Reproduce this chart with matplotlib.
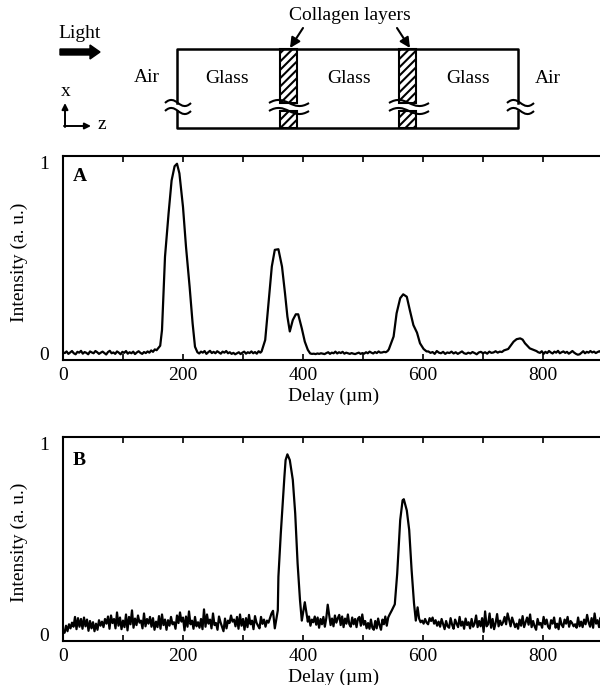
import numpy as np
import matplotlib
matplotlib.use('Agg')
import matplotlib.pyplot as plt
from matplotlib.patches import Rectangle, FancyArrow
from matplotlib.path import Path
from matplotlib.patches import PathPatch

plt.rcParams['font.family'] = ['Liberation Serif', 'DejaVu Serif']
plt.rcParams['hatch.linewidth'] = 1.5

# intensities are in thousandths
a_base1 = [38,34,42,30,37,44,33,28,40,36,45,31,39,35,28,42,37,33,44,38,30,36,41,34,27,39,45,33,37,30,42,36,28,40,35,44,31,38,33,41,29,37,43,35,30,39,34,42,36,47,40,52,48]
a_peak1_x = [162,165,170,176,181,186,190,194,200,205,211,216,220,224]
a_peak1_y = [70,147,506,720,880,950,962,915,750,555,360,180,65,38]
a_base2 = [32,41,36,44,30,38,45,34,40,33,43,37,31,41,36,44,33,38,30,35,28,33,38,29,36,41,31,38,34,42,33,39,31,43,36]
a_peak2_x = [331,337,342,348,353,359,365,370,374,378,383,388,392,398,403,408,412]
a_peak2_y = [42,98,260,458,540,543,458,327,213,140,196,224,224,155,90,50,32]
a_base3 = [30,31,29,32,30,33,31,29,34,38,30,36,33,41,32,38,34,40,31,36,33,30,34,31,29,33,36,30,34,31,38,33,41,36,32,39,34,42,36,37,40,38,44]
a_peak3_x = [543,551,556,562,567,573,578,584,590,595,601,606]
a_peak3_y = [52,115,229,303,322,310,245,171,134,82,54,42]
a_base4 = [42,35,39,30,44,36,33,40,30,37,34,41,32,38,30,36,42,33,30,36,32,39,34,28,37,40,33,38,31,41,35,37,43,36,41,39,47]
a_peak4_x = [742,751,756,762,766,770,778,784,789]
a_peak4_y = [54,90,102,106,100,82,57,50,44]
a_base5 = [38,35,43,30,40,34,44,37,32,41,36,45,33,38,42,35,40,31,37,44,36,30,26,28,35,43,33,40,36,44,37,41,34,39,43,37,40]

b_base1 = [52,40,75,48,82,62,90,70,118,58,112,70,108,60,115,72,105,50,98,62,92,48,85,55,102,75,95,68,108,85,120,60,125,88,108,62,140,75,115,58,100,68,130,52,118,82,150,65,110,78,125,90,100,62,135,72,108,85,118,70,112,55,95,68,122,60,130,78,105,55,102,75,118,82,92,60,125,88,140,95,115,52,120,70,145,82,100,60,118,72,92,65,108,58,155,70,130,85,105,62,135,78,88,55,120,92,70,48,110,62,100,88,125,95,105,72,118,60,130,75,108,55,112,68,128,82,100,58,122,90,75,62,118,84,105,70,100,90,112,135,148]
b_peak1_x = [353,358,359,363,369,371,374,378,383,387,391,395,398,403,408]
b_peak1_y = [62,150,315,528,805,887,915,887,790,626,380,200,100,190,95]
b_base2 = [120,75,105,92,120,80,115,65,108,82,118,70,112,178,128,78,110,72,125,90,112,128,78,120,68,110,85,130,82,70,115,82,108,68,110,118,75,130,80,98,62,88,60,105,65,55,98,62,110,78,55,105,82,120,75,115,130]
b_peak2_x = [548,553,557,562,566,568,573,577,581,585,588]
b_peak2_y = [150,180,330,593,690,695,640,544,348,185,100]
b_base3 = [165,110,92,100,85,108,90,82,112,98,115,85,102,75,95,70,108,82,58,98,72,65,112,80,60,105,85,68,118,75,95,60,110,78,92,62,108,70,85,125,68,98,72,112,45,145,72,82,135,65,108,58,88,132,72,100,78,92,118,82,135,105,72,115,92,68,85,60,105,75,122,68,92,115,80,130,68,98,72,55,108,80,88,65,118,82,105,70,60,102,85,115,65,85,58,112,80,68,105,85,118,70,98,88,72,82,65,115,72,95,68,105,82,128,92,70,112,65,135,85,102,68,115,80]


def fill_x(values, start, step):
    # baseline samples were read at an even spacing along the trace
    return [start + i * step for i in range(len(values))]


def join_trace(parts):
    xs = []
    ys = []
    for px, py in parts:
        xs += list(px)
        ys += list(py)
    return np.array(xs), np.array(ys) / 1000


a_x, a_y = join_trace([
    (fill_x(a_base1, 0, 3), a_base1),
    (a_peak1_x, a_peak1_y),
    (fill_x(a_base2, 227, 3), a_base2),
    (a_peak2_x, a_peak2_y),
    (fill_x(a_base3, 415, 3), a_base3),
    (a_peak3_x, a_peak3_y),
    (fill_x(a_base4, 609, 3.5), a_base4),
    (a_peak4_x, a_peak4_y),
    (fill_x(a_base5, 792, 3), a_base5),
])
b_x, b_y = join_trace([
    (fill_x(b_base1, 0, 2.5), b_base1),
    (b_peak1_x, b_peak1_y),
    (fill_x(b_base2, 410, 2.4), b_base2),
    (b_peak2_x, b_peak2_y),
    (fill_x(b_base3, 591, 2.5), b_base3),
])

W = 600
H = 685
FS = 14


def panel(top, bottom, x, y, letter, letter_y, label_y):
    ax = fig.add_axes([63 / W, 1 - bottom / H, (W - 63) / W, (bottom - top) / H])
    ax.plot(x, y, color='black', lw=1.6)
    ax.set_xlim(0, 895)
    ax.set_ylim(0, 1)
    ax.spines['right'].set_visible(False)
    for s in ['top', 'left', 'bottom']:
        ax.spines[s].set_linewidth(1.5)
    ax.set_xticks(range(0, 900, 100))
    ax.set_xticklabels(['0', '', '200', '', '400', '', '600', '', '800'], fontsize=FS)
    ax.tick_params(axis='x', direction='in', top=True, length=4, width=1.2, pad=5)
    ax.set_yticks([0, 1])
    ax.set_yticklabels(['0', '1'], fontsize=FS)
    ax.tick_params(axis='y', length=0, pad=10)
    ax.get_yticklabels()[0].set_va('baseline')
    ax.get_yticklabels()[1].set_va('top')
    ax.set_xlabel('Delay (µm)', fontsize=FS, labelpad=0)
    ax.xaxis.set_label_coords(0.503, -0.135)
    ax.set_ylabel('Intensity (a. u.)', fontsize=FS)
    ax.yaxis.set_label_coords(-0.065, label_y)
    ax.text(16, letter_y, letter, fontsize=FS, fontweight='bold', va='center')
    return ax


def squiggle(ax, x0, x1, y):
    # one wavy break line, drawn as two curves
    m = (x0 + x1) / 2
    verts = [(x0, y), (x0 + (m - x0) * 0.4, y - 5), (x0 + (m - x0) * 0.7, y - 3), (m, y),
             (m + (x1 - m) * 0.3, y + 3), (m + (x1 - m) * 0.6, y + 5), (x1, y)]
    codes = [Path.MOVETO] + [Path.CURVE4] * 6
    ax.add_patch(PathPatch(Path(verts, codes), fill=False, ec='black', lw=1.5, zorder=4))


fig = plt.figure(figsize=(W / 100, H / 100), dpi=100)

# schematic on top, in pixel coordinates
top = fig.add_axes([0, 0, 1, 1])
top.set_xlim(0, W)
top.set_ylim(H, 0)
top.axis('off')

for lx in [280, 399]:
    top.add_patch(Rectangle((lx, 49), 17, 54, fc='white', ec='black', lw=1.5, hatch='////'))
    top.add_patch(Rectangle((lx, 111), 17, 17, fc='white', ec='black', lw=1.5, hatch='////'))
top.plot([177, 177, 518, 518], [103, 49, 49, 103], color='black', lw=1.8)
top.plot([177, 177, 518, 518], [111, 128, 128, 111], color='black', lw=1.8)
for x0, x1 in [(165, 191), (269, 309), (389, 429), (507, 534)]:
    squiggle(top, x0, x1, 103)
    squiggle(top, x0, x1, 111)

top.add_patch(FancyArrow(60, 52, 40, 0, width=6, head_width=14, head_length=10,
                         length_includes_head=True, color='black'))
for start, end in [((303, 28), (290, 48)), ((397, 28), (410, 48))]:
    top.annotate('', xy=end, xytext=start,
                 arrowprops=dict(arrowstyle='-|>', color='black', lw=1.5, mutation_scale=15,
                                 shrinkA=0, shrinkB=0))
top.annotate('', xy=(65, 103), xytext=(65, 127),
             arrowprops=dict(arrowstyle='-|>', color='black', lw=1.4, mutation_scale=9, shrinkA=0, shrinkB=0))
top.annotate('', xy=(91, 126), xytext=(64, 126),
             arrowprops=dict(arrowstyle='-|>', color='black', lw=1.4, mutation_scale=9, shrinkA=0, shrinkB=0))

labels = [('Collagen layers', 350, 15), ('Light', 80, 33), ('Air', 147, 77), ('Glass', 227, 78),
          ('Glass', 349, 78), ('Glass', 468, 78), ('Air', 548, 78), ('x', 66, 91), ('z', 102, 124)]
for t, tx, ty in labels:
    top.text(tx, ty, t, fontsize=FS, ha='center', va='center')

panel(156, 360, a_x, a_y, 'A', 0.9, 0.48)
panel(437, 641, b_x, b_y, 'B', 0.885, 0.485)

fig.savefig('out.png', dpi=100)
